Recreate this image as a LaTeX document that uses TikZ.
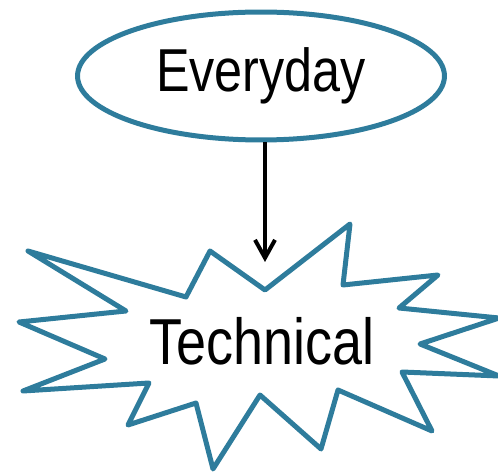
\documentclass[tikz,border=0pt]{standalone}
\usepackage{fontspec}
\newfontfamily\labelfont{Liberation Sans}[FakeStretch=0.83]
\usepackage{tikz}
\usetikzlibrary{
  shapes.geometric,      % Ellipse node
  arrows.meta            % Barb arrow tip
}
\definecolor{burstblue}{RGB}{46,124,156}

\begin{document}
\begin{tikzpicture}[x=0.02cm, y=-0.02cm,
    outline/.style={draw=burstblue, line width=0.1cm, line join=round},
    bigtext/.style={font=\labelfont\fontsize{34.5}{40}\selectfont}]
                % Frame of the picture
                \useasboundingbox (0,0) rectangle (498,473);

                % Ellipse at the top
                \node[outline, ellipse, minimum width=7.34cm, minimum height=2.56cm,
                      inner sep=0pt, bigtext] (everyday) at (261,76) {Everyday};

                % Starburst round the lower label
                \draw[outline] (28,251) -- (186,297) -- (210,251) -- (265,290)
                    -- (350,224) -- (343,285) -- (438,275) -- (399,308)
                    -- (499,318) -- (420,344) -- (499,376) -- (402,372)
                    -- (432,431) -- (338,390) -- (321,449) -- (260,395)
                    -- (213,469) -- (196,403) -- (128,425) -- (149,383)
                    -- (23,391) -- (105,359) -- (19,322) -- (126,311) -- cycle;
                \node[bigtext, font=\labelfont\fontsize{37}{44}\selectfont] (technical) at (262,341) {Technical};

                % Free end of the arrow above the starburst
                \coordinate (bursttop) at (265,262);

                % Arrow from the ellipse down to the starburst
                \draw[line width=0.08cm, -{Straight Barb[length=0.36cm, width=0.4cm]}]
                    (everyday.south -| bursttop) -- (bursttop);
            \end{tikzpicture}
\end{document}
